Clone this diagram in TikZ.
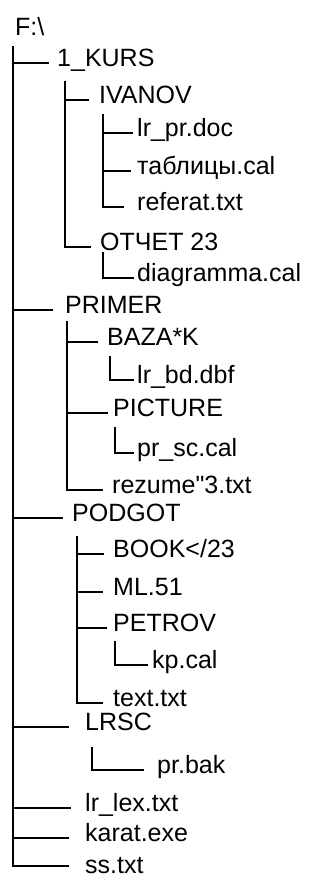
\documentclass[tikz,border=0pt]{standalone}
\usepackage{fontspec}
\setmainfont{Liberation Sans}
% same family without the TeX input mapping, for a straight double quote
\newfontfamily\rawfont{Liberation Sans}
\begin{document}
\begin{tikzpicture}[x=1pt,y=-1pt,
  item/.style={anchor=west,inner sep=0pt,font=\fontsize{25}{28}\selectfont,
               text height=0.72em,text depth=0pt},
  branch/.style={line width=1.4pt,line cap=rect}]
\useasboundingbox[fill=white] (0,0) rectangle (329,881);

% root
\node[item] (root) at (15,32) {F:\textbackslash};

% level 1
\node[item] (kurs)   at (57,63)  {1\_KURS};
\node[item] (primer) at (65,310) {PRIMER};
\node[item] (podgot) at (72,518) {PODGOT};
\node[item] (lrsc)   at (85,727) {LRSC};
\node[item] (lrlex)  at (85,808) {lr\_lex.txt};
\node[item] (karat)  at (85,838) {karat.exe};
\node[item] (ss)     at (85,870) {ss.txt};

% 1_KURS
\node[item] (ivanov) at (99,100) {IVANOV};
\node[item] (otchet) at (100,247) {ОТЧЕТ 23};
\node[item] (lrpr)   at (137,133) {lr\_pr.doc};
\node[item] (tabl)   at (137,171) {таблицы.cal};
\node[item] (refer)  at (137,207) {referat.txt};
\node[item] (diagr)  at (137,278) {diagramma.cal};

% PRIMER
\node[item] (baza)   at (107,342) {BAZA*K};
\node[item] (lrbd)   at (137,380) {lr\_bd.dbf};
\node[item] (pict)   at (113,413) {PICTURE};
\node[item] (prsc)   at (137,453) {pr\_sc.cal};
\node[item] (rezume) at (112,490) {rezume{\rawfont"}3.txt};

% PODGOT
\node[item] (book)   at (113,554) {BOOK</23};
\node[item] (ml)     at (113,592) {ML.51};
\node[item] (petrov) at (113,628) {PETROV};
\node[item] (kp)     at (152,665) {kp.cal};
\node[item] (text)   at (113,703) {text.txt};

% LRSC
\node[item] (prbak)  at (157,770) {pr.bak};

% tops of the vertical guide lines
\coordinate (t0) at (13,47);
\coordinate (t1) at (65,82);
\coordinate (t2) at (103,115);
\coordinate (t3) at (103,253);
\coordinate (t4) at (67,322);
\coordinate (t5) at (110,357);
\coordinate (t6) at (115,428);
\coordinate (t7) at (77,537);
\coordinate (t8) at (115,642);
\coordinate (t9) at (92,748);

% trunk
\draw[branch] (t0) |- ([xshift=-17pt,yshift=4pt]ss.west);
\draw[branch] (t0 |- kurs.west)   -- ([xshift=-9pt]kurs.west);
\draw[branch] (t0 |- primer.west) -- ([xshift=-13pt]primer.west);
\draw[branch] (t0 |- podgot.west) -- ([xshift=-10pt]podgot.west);
\draw[branch] (t0 |- lrsc.west)   -- ([xshift=-17pt]lrsc.west);
\draw[branch] (t0 |- lrlex.west)  -- ([xshift=-15pt]lrlex.west);
\draw[branch] (t0 |- karat.west)  -- ([xshift=-17pt]karat.west);

% 1_KURS
\draw[branch] (t1) |- ([xshift=-10pt]otchet.west);
\draw[branch] (t1 |- ivanov.west) -- ([xshift=-11pt]ivanov.west);
\draw[branch] (t2) |- ([xshift=-14pt]refer.west);
\draw[branch] (t2 |- lrpr.west) -- ([xshift=-5pt]lrpr.west);
\draw[branch] (t2 |- tabl.west) -- ([xshift=-7pt]tabl.west);
\draw[branch] (t3) |- ([xshift=-4pt]diagr.west);

% PRIMER
\draw[branch] (t4) |- ([xshift=-10pt]rezume.west);
\draw[branch] (t4 |- baza.west) -- ([xshift=-10pt]baza.west);
\draw[branch] (t4 |- pict.west) -- ([xshift=-6pt]pict.west);
\draw[branch] (t5) |- ([xshift=-4pt]lrbd.west);
\draw[branch] (t6) |- ([xshift=-4pt]prsc.west);

% PODGOT
\draw[branch] (t7) |- ([xshift=-11pt]text.west);
\draw[branch] (t7 |- book.west)   -- ([xshift=-10pt]book.west);
\draw[branch] (t7 |- ml.west)     -- ([xshift=-11pt]ml.west);
\draw[branch] (t7 |- petrov.west) -- ([xshift=-7pt]petrov.west);
\draw[branch] (t8) |- ([xshift=-5pt]kp.west);

% LRSC
\draw[branch] (t9) |- ([xshift=-14pt]prbak.west);
\end{tikzpicture}
\end{document}
